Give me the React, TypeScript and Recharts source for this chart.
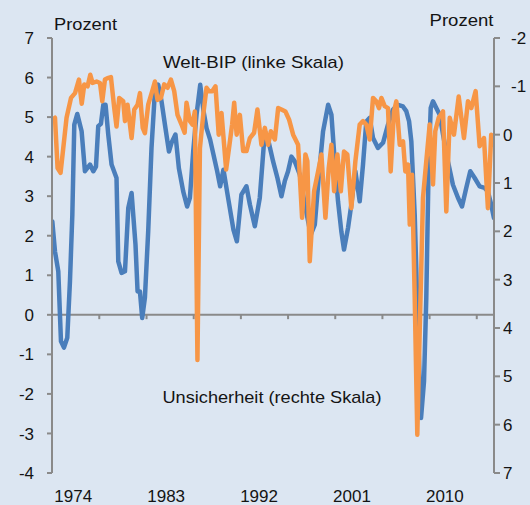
import React from 'react';
import { LineChart, Line, XAxis, YAxis, ReferenceLine } from 'recharts';

// Welt-BIP (linke Skala), Prozent
const bipYears = [
  1971.97, 1972.23, 1972.55, 1972.81, 1973.1, 1973.42, 1973.68, 1973.91, 1974.1, 1974.39,
  1974.81, 1975.13, 1975.62, 1975.94, 1976.2, 1976.42, 1976.68, 1976.91, 1977.13, 1977.39,
  1977.71, 1978.19, 1978.36, 1978.68, 1979.01, 1979.33, 1979.65, 1980.03, 1980.23, 1980.46,
  1980.68, 1980.94, 1981.26, 1981.58, 1981.91, 1982.23, 1982.55, 1982.88, 1983.27, 1983.52,
  1983.9, 1984.23, 1984.65, 1985.03, 1985.3, 1985.62, 1985.94, 1986.3, 1986.62, 1986.91,
  1987.26, 1987.91, 1988.23, 1988.55, 1989.03, 1989.52, 1989.85, 1990.29, 1990.78, 1991.11,
  1991.59, 1992.07, 1992.56, 1992.88, 1993.36, 1993.78, 1994.17, 1994.49, 1994.81, 1995.13,
  1995.46, 1995.95, 1996.43, 1997.01, 1997.4, 1997.79, 1998.2, 1998.69, 1999.01, 1999.33,
  1999.65, 1999.97, 2000.23, 2000.62, 2000.94, 2001.33, 2001.75, 2002.07, 2002.39, 2002.72,
  2003.04, 2003.52, 2004.01, 2004.49, 2004.97, 2005.46, 2005.94, 2006.26, 2006.53, 2006.75,
  2007.08, 2007.4, 2007.69, 2007.98, 2008.2, 2008.43, 2008.63, 2008.85, 2009.17, 2009.5,
  2009.82, 2010.3, 2010.78, 2011.27, 2011.66, 2012.07, 2012.46, 2012.89, 2013.37, 2013.85,
  2014.17, 2014.49, 2014.75,
];
const bipValues = [
  2.36, 1.6, 1.1, -0.67, -0.83, -0.58, 0.85, 2.53, 4.81, 5.08,
  4.64, 3.63, 3.8, 3.63, 3.75, 4.77, 4.83, 5.31, 5.31, 4.56,
  3.8, 3.46, 1.35, 1.06, 1.1, 2.7, 3.08, 1.77, 0.59, 0.59,
  -0.08, 0.43, 2.11, 4.22, 5.65, 5.82, 5.4, 4.81, 4.13, 4.35,
  4.56, 3.71, 3.12, 2.74, 2.96, 4.13, 5.06, 5.82, 5.15, 4.72,
  4.43, 3.67, 3.25, 3.67, 2.91, 2.15, 1.86, 3.04, 3.25, 2.79,
  2.24, 2.96, 4.64, 4.43, 3.88, 3.46, 3.0, 3.38, 3.63, 4.0,
  3.88, 3.54, 2.79, 2.03, 2.28, 3.5, 4.64, 5.31, 5.06, 3.88,
  2.87, 2.11, 1.65, 2.2, 2.79, 3.63, 2.87, 3.8, 4.89, 4.98,
  4.47, 4.22, 4.35, 4.81, 5.19, 5.31, 5.27, 5.15, 4.9, 4.39,
  2.53, -0.42, -2.61, -1.68, 0.43, 3.8, 5.23, 5.4, 5.23, 5.06,
  4.56, 3.88, 3.29, 2.96, 2.74, 3.21, 3.63, 3.46, 3.25, 3.21,
  3.12, 2.79, 2.45,
];

// Unsicherheit (rechte Skala, umgekehrt)
const unsYears = [
  1971.97, 1972.23, 1972.48, 1972.77, 1973.03, 1973.35, 1973.78, 1974.17, 1974.55, 1974.82,
  1975.07, 1975.39, 1975.65, 1975.87, 1976.26, 1976.59, 1976.81, 1977.07, 1977.32, 1977.65,
  1977.97, 1978.19, 1978.45, 1978.84, 1979.01, 1979.26, 1979.65, 1979.91, 1980.23, 1980.46,
  1980.73, 1980.94, 1981.26, 1981.65, 1981.91, 1982.16, 1982.49, 1982.81, 1983.13, 1983.46,
  1983.78, 1984.1, 1984.49, 1984.79, 1984.97, 1985.3, 1985.55, 1985.78, 1986.03, 1986.27,
  1986.59, 1986.91, 1987.14, 1987.46, 1987.78, 1988.09, 1988.36, 1988.81, 1989.07, 1989.39,
  1989.59, 1989.83, 1990.14, 1990.46, 1990.78, 1991.11, 1991.52, 1991.84, 1992.23, 1992.56,
  1992.88, 1993.14, 1993.53, 1993.85, 1994.17, 1994.55, 1994.91, 1995.3, 1995.78, 1996.17,
  1996.49, 1996.68, 1996.91, 1997.33, 1997.72, 1998.04, 1998.43, 1998.75, 1999.01, 1999.27,
  1999.59, 1999.92, 2000.23, 2000.55, 2000.94, 2001.33, 2001.75, 2002.07, 2002.39, 2002.72,
  2003.04, 2003.36, 2003.62, 2003.85, 2004.17, 2004.49, 2004.75, 2005.07, 2005.3, 2005.63,
  2005.95, 2006.17, 2006.43, 2006.6, 2006.82, 2007.08, 2007.33, 2007.56, 2007.88, 2008.2,
  2008.53, 2008.85, 2009.07, 2009.4, 2009.82, 2010.14, 2010.47, 2010.88, 2011.34, 2011.85,
  2012.24, 2012.56, 2012.98, 2013.37, 2013.79, 2014.17, 2014.49, 2014.75,
];
const unsValues = [
  -0.31, -0.35, 0.69, 0.79, 0.28, -0.35, -0.76, -0.86, -1.14, -0.64,
  -1.04, -1.0, -1.24, -1.07, -1.1, -1.07, -0.69, -1.14, -1.17, -1.19,
  -0.55, -0.17, -0.76, -0.69, -0.28, -0.62, 0.07, -0.52, -0.62, -0.86,
  -0.14, -0.03, -0.62, -0.9, -1.1, -0.72, -0.76, -1.04, -0.97, -1.14,
  -0.9, -0.41, -0.21, -0.04, -0.66, -0.28, -0.21, -0.48, 4.66, 0.28,
  -0.41, -0.97, -0.9, -0.9, -1.0, 0.0, -0.45, 0.72, 0.31, -0.21,
  -0.66, 0.0, -0.41, 0.34, 0.34, 0.07, -0.04, -0.52, 0.21, -0.14,
  0.21, -0.07, 0.1, -0.55, -0.52, -0.48, -0.31, 0.0, 0.21, 1.72,
  0.41, 0.55, 2.62, 1.17, 0.76, 0.41, 1.72, 0.69, 0.21, 1.17,
  0.41, 1.17, 0.35, 0.41, 1.52, 0.55, -0.21, -0.28, -0.21, 0.1,
  -0.76, -0.69, -0.55, -0.76, -0.59, -0.55, 0.76, -0.48, -0.69, 0.21,
  0.14, 0.76, 0.62, 1.86, 0.83, 3.38, 6.21, 4.07, 1.31, 0.55,
  -0.21, 1.03, -0.07, -0.35, -0.48, 1.59, -0.35, 0.0, -0.79, 0.07,
  -0.69, -0.55, -0.9, 0.24, 0.07, 1.52, 0.0, 0.21,
];

const yearLabels = [1974, 1983, 1992, 2001, 2010];
const minorTicks = [1976.52, 1981.1, 1985.67, 1990.24, 1994.81, 1999.38, 2003.95, 2008.52, 2013.09];
const leftTicks = [-4, -3, -2, -1, 0, 1, 2, 3, 4, 5, 6, 7];
const rightTicks = [-2, -1, 0, 1, 2, 3, 4, 5, 6, 7];

const bipData = bipYears.map((t, i) => ({ t, v: bipValues[i] }));
const unsData = unsYears.map((t, i) => ({ t, v: unsValues[i] }));

const FONT = '"Liberation Sans", Arial, sans-serif';
const AXIS = '#8a8a8a';
const INK = '#141414';

const LeftTick = (props: any) => (
  <text x={props.x} y={props.y} dy="0.36em" textAnchor="end" fontSize={17} fontFamily={FONT} fill={INK}>
    {props.payload.value}
  </text>
);

const RightTick = (props: any) => (
  <text
    x={props.x + (props.payload.value < 0 ? 8 : 0)}
    y={props.y}
    dy="0.36em"
    textAnchor="start"
    fontSize={17}
    fontFamily={FONT}
    fill={INK}
  >
    {props.payload.value}
  </text>
);

const YearTick = (props: any) => (
  <text x={props.x} y={props.y + 28.5} textAnchor="middle" fontSize={17} fontFamily={FONT} fill={INK}>
    {props.payload.value}
  </text>
);

export default function App() {
  return (
    <div style={{ position: 'absolute', left: 0, top: 0, width: 530, height: 505, background: '#dce6f2' }}>
      <LineChart width={530} height={505} margin={{ top: 38, right: 0, bottom: 0, left: 0 }}>
        <XAxis
          dataKey="t"
          type="number"
          domain={[1971.94, 2014.76]}
          allowDataOverflow
          ticks={yearLabels}
          axisLine={false}
          tickLine={false}
          tickSize={0}
          tickMargin={0}
          height={32}
          tick={YearTick}
        />
        <YAxis
          yAxisId="left"
          domain={[-4, 7]}
          ticks={leftTicks}
          allowDataOverflow
          width={52}
          axisLine={{ stroke: AXIS, strokeWidth: 2 }}
          tickLine={{ stroke: AXIS, strokeWidth: 2 }}
          tickSize={5}
          tickMargin={13}
          tick={LeftTick}
        />
        <YAxis
          yAxisId="right"
          orientation="right"
          reversed
          domain={[-2, 7]}
          ticks={rightTicks}
          allowDataOverflow
          width={36}
          axisLine={{ stroke: AXIS, strokeWidth: 2 }}
          tickLine={{ stroke: AXIS, strokeWidth: 2 }}
          tickSize={6}
          tickMargin={3}
          tick={RightTick}
        />
        <ReferenceLine yAxisId="left" y={0} stroke={AXIS} strokeWidth={2} />
        {minorTicks.map((t) => (
          <ReferenceLine
            key={t}
            yAxisId="left"
            segment={[{ x: t, y: 0 }, { x: t, y: -0.11 }]}
            stroke={AXIS}
            strokeWidth={2}
          />
        ))}
        <Line
          yAxisId="left"
          data={bipData}
          dataKey="v"
          type="linear"
          stroke="#4a7ebb"
          strokeWidth={4.5}
          strokeLinejoin="round"
          strokeLinecap="round"
          dot={false}
          activeDot={false}
          isAnimationActive={false}
        />
        <Line
          yAxisId="right"
          data={unsData}
          dataKey="v"
          type="linear"
          stroke="#f79646"
          strokeWidth={4.5}
          strokeLinejoin="round"
          strokeLinecap="round"
          dot={false}
          activeDot={false}
          isAnimationActive={false}
        />
      </LineChart>
      <svg
        width={530}
        height={505}
        style={{ position: 'absolute', left: 0, top: 0, pointerEvents: 'none' }}
        fontFamily={FONT}
        fill={INK}
      >
        <text x={54} y={29.5} fontSize={17} textLength={63} lengthAdjust="spacingAndGlyphs">Prozent</text>
        <text x={429.5} y={26} fontSize={17} textLength={64} lengthAdjust="spacingAndGlyphs">Prozent</text>
        <text x={163} y={67.5} fontSize={17} textLength={181} lengthAdjust="spacingAndGlyphs">
          Welt-BIP (linke Skala)
        </text>
        <text x={162.5} y={402.5} fontSize={17} textLength={219} lengthAdjust="spacingAndGlyphs">
          Unsicherheit (rechte Skala)
        </text>
      </svg>
    </div>
  );
}
